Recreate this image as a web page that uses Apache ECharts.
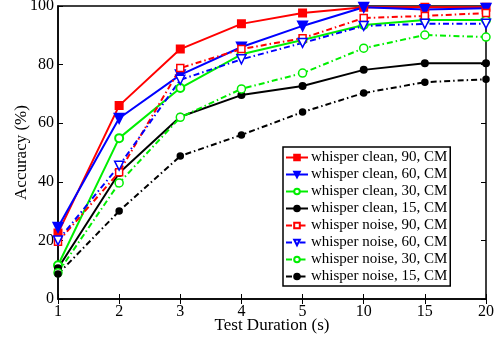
<!DOCTYPE html>
<html>
<head>
<meta charset="utf-8">
<script src="https://cdn.jsdelivr.net/npm/echarts@6/dist/echarts.min.js"></script>
<style>
  html, body { margin: 0; padding: 0; background: #fff; }
  #chart { width: 499px; height: 339px; }
</style>
</head>
<body>
<div id="chart"></div>
<script>
const durations = ['1', '2', '3', '4', '5', '10', '15', '20'];
const yTicks = [0, 20, 40, 60, 80, 100];

const clean90 = [22.5, 66, 85.3, 93.9, 97.6, 99.6, 99.6, 99.6];
const clean60 = [24.5, 61.7, 76.5, 86, 93.2, 99.6, 98.8, 99.2];
const clean30 = [11.5, 54.9, 72, 83.5, 88.4, 93.5, 95.2, 95.2];
const clean15 = [10.5, 43, 62.2, 69.6, 72.7, 78.2, 80.5, 80.5];
const noise90 = [19.5, 43.3, 78.8, 85.3, 89, 95.9, 96.6, 97.6];
const noise60 = [20, 45.5, 74.8, 81.8, 87.4, 93.2, 93.9, 93.9];
const noise30 = [9, 39.6, 62, 71.7, 77.1, 85.6, 90.1, 89.4];
const noise15 = [8.5, 30, 48.8, 56, 63.8, 70.3, 74, 75];

const serif = 'Liberation Serif, Times New Roman, serif';
const dashDot = [6, 3, 1.5, 3];

function clean(name, data, color, symbol, size, fill) {
  return {
    name, data, type: 'line', symbol, symbolSize: size,
    lineStyle: { color, width: 2 },
    itemStyle: { color: fill, borderColor: color, borderWidth: 2 },
    emphasis: { disabled: true }
  };
}

function noise(name, data, color, symbol, size, fill) {
  return {
    name, data, type: 'line', symbol, symbolSize: size,
    lineStyle: { color, width: 2, type: dashDot },
    itemStyle: { color: fill, borderColor: color, borderWidth: 1.5 },
    emphasis: { disabled: true }
  };
}

const chart = echarts.init(document.getElementById('chart'));
chart.setOption({
  animation: false,
  textStyle: { fontFamily: serif },
  grid: { left: 58, right: 13, top: 6, bottom: 40, outerBoundsMode: 'none', show: true, borderColor: '#000', borderWidth: 1.5, backgroundColor: 'transparent' },
  legend: {
    orient: 'vertical', left: 283, top: 147,
    backgroundColor: '#fff', borderColor: '#000', borderWidth: 1.5,
    padding: [3, 3, 2, 2], itemGap: 2, itemWidth: 22, itemHeight: 7,
    textStyle: { fontFamily: serif, fontSize: 15, lineHeight: 15, color: '#000', padding: [0, 0, 0, -2] },
    data: ['whisper clean, 90, CM', 'whisper clean, 60, CM', 'whisper clean, 30, CM', 'whisper clean, 15, CM',
      'whisper noise, 90, CM', 'whisper noise, 60, CM', 'whisper noise, 30, CM', 'whisper noise, 15, CM']
  },
  xAxis: [{
    type: 'category', data: durations, boundaryGap: false,
    name: 'Test Duration (s)', nameLocation: 'middle', nameGap: 18, nameMoveOverlap: false,
    nameTextStyle: { fontFamily: serif, fontSize: 17, color: '#000' },
    axisLine: { lineStyle: { color: '#000', width: 1.5 } },
    axisTick: { inside: true, length: 5, lineStyle: { color: '#000' } },
    axisLabel: { fontFamily: serif, fontSize: 16, color: '#000', margin: 5 }
  }, {
    type: 'category', data: durations, boundaryGap: false, position: 'top',
    axisLine: { show: false }, axisLabel: { show: false },
    axisTick: { inside: true, length: 5, lineStyle: { color: '#000' } }
  }],
  yAxis: [{
    type: 'value', min: 0, max: 100, interval: 20,
    name: 'Accuracy (%)', nameLocation: 'middle', nameGap: 28, nameMoveOverlap: false,
    nameTextStyle: { fontFamily: serif, fontSize: 17, color: '#000' },
    axisLine: { show: true, lineStyle: { color: '#000', width: 1.5 } },
    axisTick: { show: true, inside: true, length: 5, lineStyle: { color: '#000' } },
    axisLabel: { fontFamily: serif, fontSize: 16, color: '#000', margin: 4,
      formatter: v => yTicks.includes(v) ? String(v) : '' },
    splitLine: { show: false }
  }, {
    type: 'value', min: 0, max: 100, interval: 20, position: 'right',
    axisLine: { show: false }, axisLabel: { show: false },
    axisTick: { show: true, inside: true, length: 5, lineStyle: { color: '#000' } },
    splitLine: { show: false }
  }],
  series: [
    clean('whisper clean, 90, CM', clean90, '#ff0000', 'rect', 7, '#ff0000'),
    clean('whisper clean, 60, CM', clean60, '#0000ff', 'triangle', 9, '#0000ff'),
    clean('whisper clean, 30, CM', clean30, '#00ee00', 'circle', 8, '#ffffff'),
    clean('whisper clean, 15, CM', clean15, '#000000', 'circle', 6, '#000000'),
    noise('whisper noise, 90, CM', noise90, '#ff0000', 'rect', 7, '#ffffff'),
    noise('whisper noise, 60, CM', noise60, '#0000ff', 'triangle', 9, '#ffffff'),
    noise('whisper noise, 30, CM', noise30, '#00ee00', 'circle', 8, '#ffffff'),
    noise('whisper noise, 15, CM', noise15, '#000000', 'circle', 6, '#000000')
  ].map(s => Object.assign(s, { symbolRotate: s.symbol === 'triangle' ? 180 : 0 }))
});
</script>
</body>
</html>
